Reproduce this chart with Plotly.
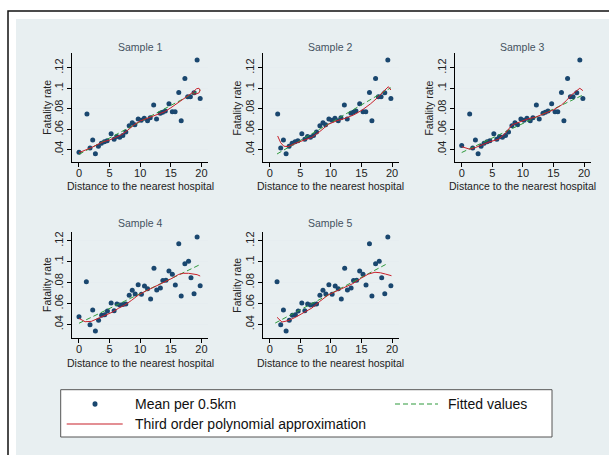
import plotly.graph_objects as go

W, H = 609, 455

# ---------------- data ----------------
sample_titles = ["Sample 1", "Sample 2", "Sample 3", "Sample 4", "Sample 5"]

a_x = [0, 1.3, 1.8, 2.24, 2.68, 3.17, 3.66, 4.15, 4.6, 5.25, 5.74, 6.18, 6.66, 7.16, 7.65,
       8.2, 8.7, 9.13, 9.67, 10.16, 10.66, 11.2, 11.64, 12.2, 12.67, 13.28, 13.66, 14.1,
       14.7, 15.25, 15.7, 16.3, 16.7, 17.3, 17.76, 18.2, 18.8, 19.3, 19.8]
a_y = [0.0378, 0.075, 0.042, 0.0497, 0.0364, 0.0436, 0.0465, 0.048, 0.049, 0.0558, 0.0504,
       0.053, 0.0523, 0.054, 0.0575, 0.0636, 0.0665, 0.0646, 0.070, 0.0688, 0.0708, 0.0685,
       0.0714, 0.0837, 0.070, 0.0756, 0.0766, 0.0779, 0.085, 0.0772, 0.0772, 0.096, 0.0685,
       0.1096, 0.0918, 0.0918, 0.0956, 0.1274, 0.090]
a3_first_y = 0.0443

b_x = [0, 1.2, 1.8, 2.24, 2.68, 3.2, 3.7, 4.2, 4.65, 5.25, 5.74, 6.2, 6.67, 7.16, 7.65,
       8.2, 8.7, 9.18, 9.67, 10.2, 10.7, 11.2, 11.7, 12.25, 12.7, 13.3, 13.7, 14.2, 14.7,
       15.25, 15.74, 16.3, 16.7, 17.3, 17.9, 18.3, 18.8, 19.3, 19.8]
b_y = [0.0473, 0.0808, 0.0396, 0.0537, 0.0336, 0.044, 0.0486, 0.0492, 0.0527, 0.0604, 0.053,
       0.0594, 0.0585, 0.059, 0.0594, 0.0677, 0.0725, 0.069, 0.0779, 0.0687, 0.0766, 0.074,
       0.0642, 0.0936, 0.0728, 0.0747, 0.082, 0.0822, 0.091, 0.0878, 0.0776, 0.117, 0.067,
       0.098, 0.1003, 0.0846, 0.0693, 0.1235, 0.077]

scatter_x = [a_x, a_x[1:], a_x, b_x, b_x[1:]]
scatter_y = [a_y, a_y[1:], [a3_first_y] + a_y[1:], b_y, b_y[1:]]

poly1_x = [0, 1, 2, 3, 4, 5, 6, 7, 8, 9, 10, 11, 12, 13, 14, 15, 16, 17, 18, 18.6, 19.2, 19.6, 19.8, 19.6, 19.0, 18.6]
poly1_y = [0.0374, 0.0395, 0.0422, 0.0452, 0.048, 0.0497, 0.052, 0.055, 0.0594, 0.0645, 0.0682,
           0.0705, 0.0724, 0.0745, 0.0772, 0.081, 0.0853, 0.0895, 0.0934, 0.096, 0.0995, 0.1,
           0.098, 0.0955, 0.0942, 0.0948]
poly2_x = [1.3, 1.8, 2.3, 3.0, 4.2, 5.5, 6.9, 8.2, 9.6, 11, 12.3, 13.7, 15.1, 16.5, 17.8, 18.6, 19.4, 19.8]
poly2_y = [0.0536, 0.047, 0.0437, 0.0432, 0.0465, 0.049, 0.0523, 0.058, 0.065, 0.0685, 0.0707,
           0.074, 0.0788, 0.085, 0.0918, 0.097, 0.1015, 0.0983]
poly3_x = [0, 0.7, 1.35, 2.3, 3.3, 4.6, 6.0, 7.1, 8.2, 9.4, 10.7, 12.1, 13.6, 15.0, 16.3, 17.1, 17.9, 18.6, 19.3, 19.8]
poly3_y = [0.0432, 0.0415, 0.0407, 0.0425, 0.0449, 0.048, 0.0504, 0.056, 0.0643, 0.067, 0.070,
           0.072, 0.0756, 0.079, 0.0837, 0.088, 0.0934, 0.097, 0.1, 0.0977]
poly4_x = [0, 1, 2, 3.2, 4.3, 5.4, 6.5, 7.5, 8.6, 9.7, 10.8, 11.9, 13, 14.1, 15.2, 16.3, 17.1, 17.9, 18.6, 19.3, 19.8]
poly4_y = [0.0457, 0.0425, 0.0428, 0.0457, 0.049, 0.0515, 0.0555, 0.0585, 0.063, 0.068, 0.0715,
           0.0745, 0.0775, 0.0808, 0.084, 0.0878, 0.0888, 0.0888, 0.088, 0.0875, 0.0862]
poly5_x = [1.2, 2.0, 3.0, 4.2, 5.5, 6.9, 8.2, 9.6, 11, 12.3, 13.6, 15.0, 16.1, 17.2, 18.1, 18.9, 19.9]
poly5_y = [0.0467, 0.0422, 0.0435, 0.0467, 0.051, 0.0556, 0.062, 0.0683, 0.072, 0.0754, 0.079,
           0.0843, 0.088, 0.0898, 0.0893, 0.0881, 0.0865]
poly_x = [poly1_x, poly2_x, poly3_x, poly4_x, poly5_x]
poly_y = [poly1_y, poly2_y, poly3_y, poly4_y, poly5_y]

fit_x = [[0, 19.8], [1.2, 19.8], [0, 19.8], [0, 19.8], [0.9, 19.2]]
fit_y = [[0.0358, 0.0985], [0.0361, 0.1005], [0.0375, 0.0934], [0.041, 0.0972], [0.0412, 0.098]]

x_ticks = [0, 5, 10, 15, 20]
x_ticklabels = ["0", "5", "10", "15", "20"]
y_ticks = [0.04, 0.06, 0.08, 0.10, 0.12]
y_ticklabels = [".04", ".06", ".08", ".1", ".12"]

x_title = "Distance to the nearest hospital"
y_title = "Fatality rate"
legend_labels = ["Mean per 0.5km", "Fitted values", "Third order polynomial approximation"]

# ---------------- styling / layout ----------------
FONT = "Liberation Sans, Arial, sans-serif"
NAVY = "#1a476f"
RED = "#c8202a"
GREEN = "#2f9a3c"
BG = "#e8eff1"


def px(x):
    return x / W


def py(y):
    return 1 - y / H


XR = [-1.1, 21.1]
XS = 6.12
panels = [
    dict(x0=79.0, top=53.3, bot=161.9, yr=[0.0284, 0.134], ty=47, xt=186),
    dict(x0=269.7, top=53.3, bot=161.9, yr=[0.0284, 0.134], ty=47, xt=186),
    dict(x0=461.7, top=53.3, bot=161.9, yr=[0.0284, 0.134], ty=47, xt=186),
    dict(x0=79.0, top=231.7, bot=337.7, yr=[0.0272, 0.1286], ty=223, xt=363),
    dict(x0=269.7, top=231.7, bot=337.7, yr=[0.0272, 0.1286], ty=223, xt=363),
]

fig = go.Figure()
annotations = []
shapes = []

for i, p in enumerate(panels):
    n = "" if i == 0 else str(i + 1)
    left = p["x0"] + XR[0] * XS
    right = p["x0"] + XR[1] * XS
    xa = "x" + n
    ya = "y" + n
    fig.add_trace(go.Scatter(x=scatter_x[i], y=scatter_y[i], mode="markers",
                             marker=dict(color=NAVY, size=5, line=dict(width=0)),
                             xaxis=xa, yaxis=ya, showlegend=False, hoverinfo="skip"))
    fig.add_trace(go.Scatter(x=fit_x[i], y=fit_y[i], mode="lines",
                             line=dict(color=GREEN, width=1, dash="5px,3px"),
                             xaxis=xa, yaxis=ya, showlegend=False, hoverinfo="skip"))
    fig.add_trace(go.Scatter(x=poly_x[i], y=poly_y[i], mode="lines",
                             line=dict(color=RED, width=1),
                             xaxis=xa, yaxis=ya, showlegend=False, hoverinfo="skip"))
    fig.layout["xaxis" + n] = dict(
        domain=[px(left), px(right)], range=XR, anchor=ya,
        tickvals=x_ticks, ticktext=x_ticklabels, ticks="outside", ticklen=4,
        ticklabelstandoff=-3,
        tickcolor="#000", showline=True, linecolor="#000", linewidth=1,
        showgrid=False, zeroline=False, tickfont=dict(size=11, color="#222", family=FONT),
        fixedrange=True)
    fig.layout["yaxis" + n] = dict(
        domain=[py(p["bot"]), py(p["top"])], range=p["yr"], anchor=xa,
        tickvals=y_ticks, ticktext=y_ticklabels, ticks="outside", ticklen=4,
        tickcolor="#000", showline=True, linecolor="#000", linewidth=1,
        showgrid=True, gridcolor="#e6edf0", gridwidth=1, zeroline=False, tickangle=-90,
        tickfont=dict(size=11, color="#222", family=FONT), fixedrange=True)
    cx = (left + right) / 2
    annotations.append(dict(text=sample_titles[i], x=px(cx), y=py(p["ty"]), xref="paper", yref="paper",
                            xanchor="center", yanchor="middle", showarrow=False,
                            font=dict(size=10.5, color="#44525f", family=FONT)))
    annotations.append(dict(text=x_title, x=px(cx), y=py(p["xt"]), xref="paper", yref="paper",
                            xanchor="center", yanchor="middle", showarrow=False,
                            font=dict(size=10.5, color="#222", family=FONT)))
    annotations.append(dict(text=y_title, x=px(left - 26), y=py((p["top"] + p["bot"]) / 2),
                            xref="paper", yref="paper", textangle=-90,
                            xanchor="center", yanchor="middle", showarrow=False,
                            font=dict(size=10.5, color="#222", family=FONT)))

# background frame
shapes.append(dict(type="rect", xref="paper", yref="paper", x0=px(8), x1=1.1, y0=-0.1, y1=py(11),
                   line=dict(color="#111", width=1.5), fillcolor="white", layer="below"))
shapes.append(dict(type="rect", xref="paper", yref="paper", x0=px(16), x1=1.1, y0=-0.1, y1=py(19),
                   line=dict(width=0), fillcolor=BG, layer="below"))

# legend box
LB = dict(l=60.7, r=552, t=389.7, b=437)
shapes.append(dict(type="rect", xref="paper", yref="paper", x0=px(LB["l"]), x1=px(LB["r"]),
                   y0=py(LB["b"]), y1=py(LB["t"]), line=dict(color="#555", width=1),
                   fillcolor="white", layer="above"))
row1, row2 = 404, 424
shapes.append(dict(type="circle", xref="paper", yref="paper", x0=px(92.5), x1=px(97.5),
                   y0=py(row1 + 2.8), y1=py(row1 - 2.8), line=dict(width=0), fillcolor=NAVY, layer="above"))
shapes.append(dict(type="line", xref="paper", yref="paper", x0=px(66.7), x1=px(122.7),
                   y0=py(row2), y1=py(row2), line=dict(color=RED, width=1.2), layer="above"))
shapes.append(dict(type="line", xref="paper", yref="paper", x0=px(395), x1=px(438),
                   y0=py(row1), y1=py(row1), line=dict(color=GREEN, width=1.2, dash="5px,3px"), layer="above"))
annotations.append(dict(text=legend_labels[0], x=px(132.7), y=py(row1), xref="paper", yref="paper",
                        xanchor="left", yanchor="middle", showarrow=False,
                        font=dict(size=14, color="#111", family=FONT)))
annotations.append(dict(text=legend_labels[2], x=px(132.7), y=py(row2), xref="paper", yref="paper",
                        xanchor="left", yanchor="middle", showarrow=False,
                        font=dict(size=14, color="#111", family=FONT)))
annotations.append(dict(text=legend_labels[1], x=px(446), y=py(row1), xref="paper", yref="paper",
                        xanchor="left", yanchor="middle", showarrow=False,
                        font=dict(size=14, color="#111", family=FONT)))

fig.update_layout(width=W, height=H, margin=dict(l=0, r=0, t=0, b=0),
                  paper_bgcolor="white", plot_bgcolor="white", showlegend=False,
                  annotations=annotations, shapes=shapes, font=dict(family=FONT))

fig.write_html("out.html", config=dict(displayModeBar=False),
               post_script="document.body.style.margin='0';document.body.style.overflow='hidden';")
